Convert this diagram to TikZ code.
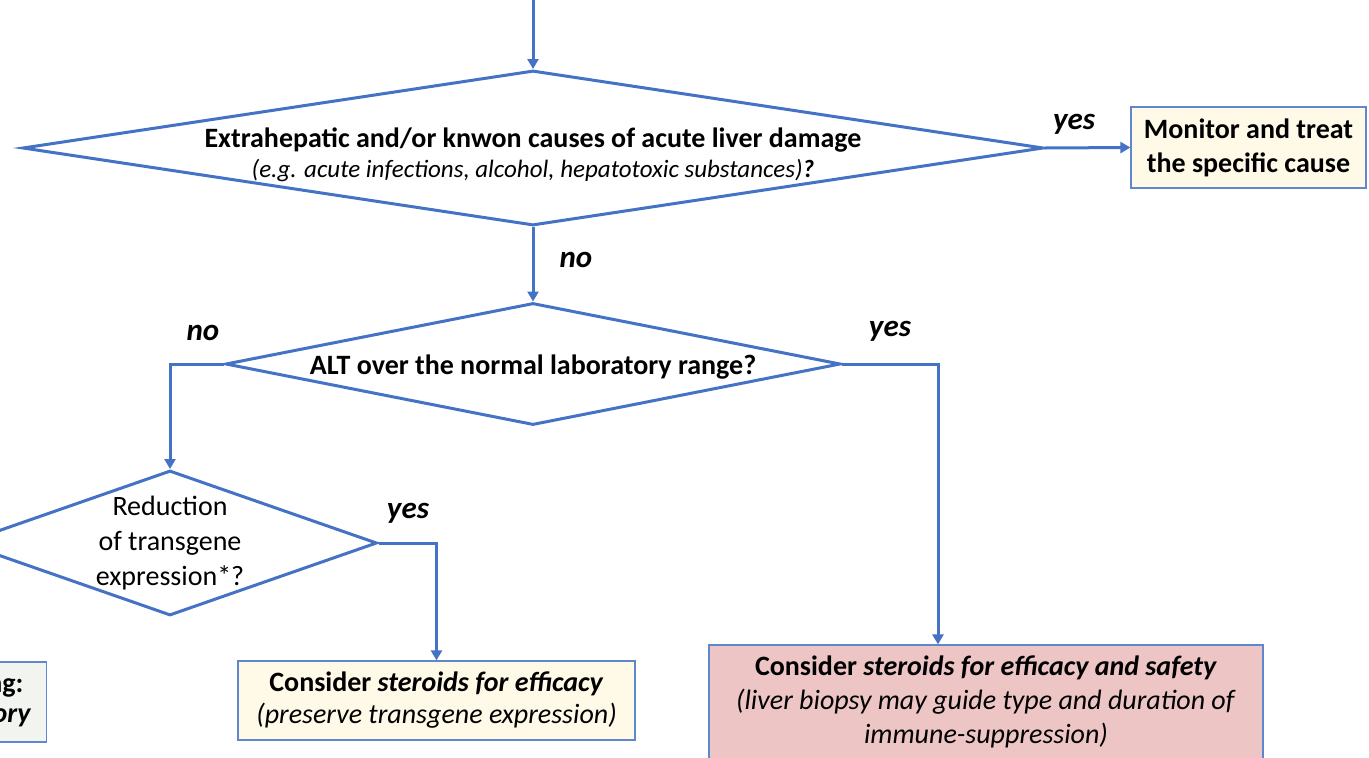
\documentclass[tikz,border=0pt]{standalone}
\usepackage{fontspec}
\setmainfont{Carlito}
\usetikzlibrary{arrows.meta,shapes.geometric}
\definecolor{lineblue}{HTML}{4472C4}
\definecolor{creamfill}{HTML}{FFF9E8}
\definecolor{pinkfill}{HTML}{EEC5C5}
\definecolor{greyfill}{HTML}{F2F4F0}
\tikzset{
  decision/.style={diamond, draw=lineblue, line width=3pt, inner sep=0pt},
  qtext/.style={align=center, font=\fontsize{28}{35}\selectfont},
  action/.style={rectangle, draw=lineblue!85, line width=1.2pt, inner sep=0pt,
                 align=center, font=\fontsize{28}{34}\selectfont},
  flow/.style={draw=lineblue, line width=3pt,
               -{Triangle[length=10pt,width=11pt]}},
  answer/.style={font=\fontsize{31}{36}\selectfont\bfseries\itshape}
}

\begin{document}
\begin{tikzpicture}[x=1pt,y=-1pt]
\useasboundingbox (0,0) rectangle (1369,758);
\coordinate (start) at (533,0);
\coordinate (rightdrop) at (938,0);
\node[decision, minimum width=1021pt, minimum height=155pt] (causes) at (533,148) {};
\node[qtext, font=\fontsize{28}{30}\selectfont] (causestext) at (533,155)
    {\textbf{Extrahepatic and/or knwon causes of acute liver damage}\\
     {\fontsize{25}{30}\selectfont\itshape (e.g. acute infections, alcohol, hepatotoxic substances)\textbf{?}}};
\node[action, fill=creamfill, minimum width=235pt, minimum height=81pt, font=\fontsize{28}{34}\selectfont\bfseries]
    (treat) at (1248.5,147.5) {Monitor and treat\\the specific cause};
\node[decision, minimum width=615pt, minimum height=122pt] (alt) at (533,364) {};
\node[qtext, font=\fontsize{28}{34}\selectfont\bfseries] (alttext) at (533,367) {ALT over the normal laboratory range?};
\node[decision, minimum width=414pt, minimum height=145pt] (reduction) at (170,543) {};
\node[qtext] (reductiontext) at (170,543) {Reduction\\of transgene\\expression*?};
\node[action, fill=creamfill, minimum width=397pt, minimum height=79pt, font=\fontsize{28}{32}\selectfont]
    (efficacy) at (436.5,700.5)
    {\textbf{Consider \textit{steroids for efficacy}}\\\textit{(preserve transgene expression)}};
\node[action, fill=pinkfill, minimum width=554pt, minimum height=114pt]
    (safety) at (986,702)
    {\textbf{Consider \textit{steroids for efficacy and safety}}\\
     \textit{(liver biopsy may guide type and duration of}\\\textit{immune-suppression)}};
\node[action, fill=greyfill, minimum width=300pt, minimum height=80pt, anchor=east] (other) at (47,702) {};
\node[qtext, anchor=east, font=\fontsize{28}{34}\selectfont\bfseries] (othertop) at (27,688) {ng:};
\node[qtext, anchor=east, font=\fontsize{28}{34}\selectfont\bfseries\itshape] (otherbottom) at (34,718) {ory};

\draw[flow] (start) -- (causes.north);
\draw[flow] (causes.east) -- (treat.west);
\draw[flow] (causes.south) -- (alt.north);
\draw[flow] (alt.west) -| (reduction.north);
\draw[flow] (alt.east) -| (safety.north -| rightdrop);
\draw[flow] (reduction.east) -| (efficacy.north);

\node[answer] (yestreat) at (1074,124) {yes};
\node[answer] (nocauses) at (576,260) {no};
\node[answer] (noalt) at (203,333) {no};
\node[answer] (yesalt) at (890,331) {yes};
\node[answer] (yesreduction) at (408,513) {yes};
\end{tikzpicture}
\end{document}
